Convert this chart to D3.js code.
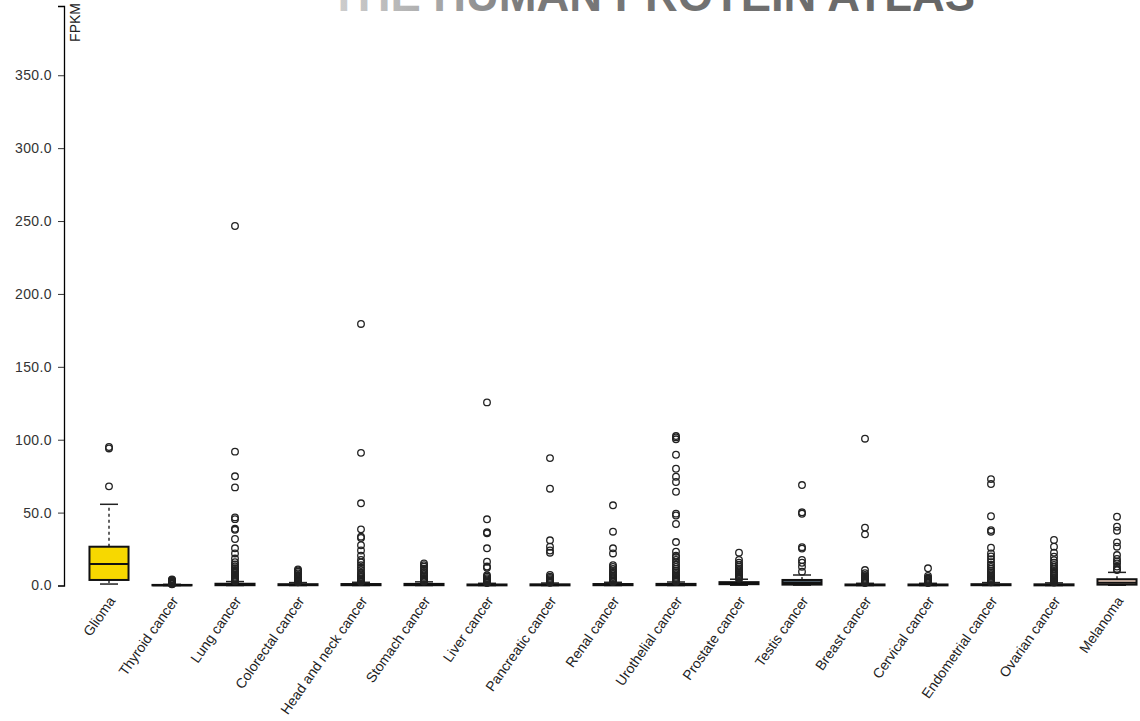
<!DOCTYPE html>
<html>
<head>
<meta charset="utf-8">
<script src="https://cdn.jsdelivr.net/npm/d3@7"></script>
<style>
  html, body { margin: 0; padding: 0; background: #fff; }
  svg { display: block; font-family: "Liberation Sans", Arial, sans-serif; }
</style>
</head>
<body>
<svg id="chart" width="1140" height="721"></svg>
<script>
// Cancer types along the x axis
const categories = ["Glioma", "Thyroid cancer", "Lung cancer", "Colorectal cancer",
  "Head and neck cancer", "Stomach cancer", "Liver cancer", "Pancreatic cancer",
  "Renal cancer", "Urothelial cancer", "Prostate cancer", "Testis cancer",
  "Breast cancer", "Cervical cancer", "Endometrial cancer", "Ovarian cancer", "Melanoma"];

// Box statistics (FPKM)
const whiskerLow  = [1.0, 0.0, 0.0, 0.0, 0.0, 0.0, 0.0, 0.0, 0.0, 0.0, 0.2, 0.3, 0.0, 0.0, 0.0, 0.0, 0.2];
const q1          = [3.8, 0.1, 0.2, 0.2, 0.2, 0.2, 0.1, 0.1, 0.2, 0.2, 0.9, 0.6, 0.1, 0.1, 0.2, 0.1, 0.6];
const median      = [14.7, 0.2, 0.5, 0.4, 0.5, 0.5, 0.3, 0.3, 0.5, 0.5, 1.5, 1.8, 0.3, 0.3, 0.4, 0.3, 1.9];
const q3          = [26.6, 0.4, 1.2, 0.9, 1.0, 1.1, 0.7, 0.8, 1.0, 1.1, 2.3, 3.8, 0.7, 0.7, 0.9, 0.8, 4.3];
const whiskerHigh = [55.7, 0.8, 2.7, 2.0, 2.2, 2.5, 1.5, 1.7, 2.2, 2.4, 4.3, 7.2, 1.5, 1.5, 2.0, 1.8, 9.0];

// Samples beyond the whiskers
const outliers = [
  [68.0, 94.0, 95.0],
  [0.9, 1.0, 1.2, 1.4, 1.6, 1.9, 2.2, 2.5, 2.9, 3.3, 3.8, 4.2],
  [2.9, 3.1, 3.4, 3.8, 4.2, 4.7, 5.3, 6.0, 6.8, 7.6, 8.5, 9.5, 10.6, 11.8, 13.1, 14.5, 16.0, 18.5, 22.0, 25.5, 31.9, 38.2, 38.9, 45.5, 46.7, 67.3, 74.9, 91.8, 246.6],
  [2.2, 2.5, 2.9, 3.3, 3.8, 4.3, 4.9, 5.6, 6.4, 7.3, 8.3, 9.4, 10.3, 11.0],
  [2.4, 2.7, 3.1, 3.6, 4.2, 4.9, 5.7, 6.6, 7.6, 8.7, 10.6, 12.2, 14.0, 15.8, 17.5, 20.5, 24.0, 27.6, 32.6, 33.5, 38.5, 56.4, 91.0, 179.4],
  [2.7, 3.0, 3.4, 3.9, 4.5, 5.2, 6.0, 6.9, 7.9, 9.0, 10.2, 11.5, 12.9, 14.0, 15.2],
  [1.7, 2.0, 2.4, 2.9, 3.5, 4.2, 5.0, 6.0, 7.0, 12.2, 13.0, 16.3, 25.5, 35.8, 36.5, 45.4, 125.6],
  [1.9, 2.2, 2.6, 3.1, 3.7, 4.4, 5.2, 6.1, 7.2, 22.5, 24.0, 26.6, 31.0, 66.4, 87.4],
  [2.4, 2.8, 3.2, 3.7, 4.3, 5.0, 5.8, 6.7, 7.7, 8.8, 10.0, 11.3, 12.7, 14.0, 22.0, 25.5, 36.9, 55.0],
  [2.6, 2.9, 3.3, 3.8, 4.4, 5.1, 5.9, 6.8, 7.8, 8.9, 10.1, 11.4, 12.8, 14.3, 15.9, 17.6, 19.5, 20.5, 23.2, 29.8, 42.2, 48.0, 49.3, 64.3, 71.0, 74.6, 80.1, 89.7, 100.3, 101.6, 102.5],
  [4.6, 5.0, 5.5, 6.0, 6.6, 7.2, 7.9, 8.7, 9.6, 10.6, 11.7, 12.9, 14.2, 15.6, 17.5, 22.5],
  [9.5, 12.9, 15.6, 17.5, 25.3, 26.3, 49.2, 50.2, 68.9],
  [1.7, 2.0, 2.4, 2.8, 3.3, 3.9, 4.6, 5.4, 6.3, 7.2, 8.5, 10.6, 35.1, 39.7, 100.7],
  [1.7, 2.0, 2.3, 2.7, 3.1, 3.6, 4.1, 4.7, 5.4, 6.5, 11.8],
  [2.2, 2.5, 2.9, 3.3, 3.8, 4.4, 5.1, 5.9, 6.8, 7.8, 8.9, 10.1, 11.4, 12.8, 14.3, 16.0, 18.0, 20.0, 22.0, 25.9, 36.9, 38.0, 47.5, 69.6, 73.0],
  [2.0, 2.3, 2.7, 3.1, 3.6, 4.2, 4.9, 5.7, 6.6, 7.6, 8.7, 9.9, 11.2, 12.6, 14.1, 15.7, 17.4, 19.8, 22.5, 26.6, 31.2],
  [10.6, 11.3, 13.0, 15.2, 16.5, 18.2, 20.9, 26.6, 29.6, 37.6, 40.3, 47.2]
];

// Box fill per cancer type
const boxColors = ["#f7d800", "#ffffff", "#ffffff", "#ffffff", "#ffffff", "#ffffff", "#ffffff",
  "#ffffff", "#ffffff", "#ffffff", "#ffffff", "#4b5a66", "#ffffff", "#ffffff", "#ffffff",
  "#ffffff", "#f2d3c2"];

// Y axis ticks
const yTicks = [0, 50, 100, 150, 200, 250, 300, 350];
const yMax = 397.5;

const svg = d3.select("#chart");

// Faded site banner along the top edge
const grad = svg.append("defs").append("linearGradient")
  .attr("id", "bannerFade").attr("x1", "0%").attr("x2", "100%");
grad.append("stop").attr("offset", "0%").attr("stop-color", "#d0d0d0");
grad.append("stop").attr("offset", "14%").attr("stop-color", "#b0b0b0");
grad.append("stop").attr("offset", "30%").attr("stop-color", "#7a7a7a");
grad.append("stop").attr("offset", "100%").attr("stop-color", "#656565");

svg.append("text")
  .attr("x", 330).attr("y", 11)
  .attr("textLength", 645).attr("lengthAdjust", "spacingAndGlyphs")
  .attr("font-family", "'Liberation Sans', Arial, sans-serif")
  .attr("font-weight", "bold").attr("font-size", 46)
  .attr("fill", "url(#bannerFade)")
  .text("THE HUMAN PROTEIN ATLAS");

const x = d3.scaleBand().domain(categories).range([77.5, 1148.5]).padding(0);
const y = d3.scaleLinear().domain([0, yMax]).range([585.5, 6]);

const boxW = x.bandwidth() * 0.62;
const capW = 18;
const cx = c => x(c) + x.bandwidth() / 2;

// Y axis
const yAxis = svg.append("g")
  .attr("transform", "translate(64,0)")
  .call(d3.axisLeft(y).tickValues(yTicks).tickFormat(d3.format(".1f"))
    .tickSize(6).tickPadding(6));
yAxis.select(".domain").attr("stroke", "#000").attr("stroke-width", 1.3);
yAxis.selectAll(".tick line").attr("stroke", "#333");
yAxis.selectAll(".tick text").attr("font-size", 14).attr("fill", "#333")
  .attr("letter-spacing", "0.4px")
  .attr("font-family", "'Liberation Sans', Arial, sans-serif");

svg.append("text")
  .attr("transform", "translate(80,3) rotate(-90)")
  .attr("text-anchor", "end")
  .attr("font-size", 14).attr("fill", "#222")
  .text("FPKM");

// Boxes
const boxes = svg.append("g").selectAll("g").data(categories).join("g");

boxes.append("line")
  .attr("x1", d => cx(d)).attr("x2", d => cx(d))
  .attr("y1", (d, i) => y(q3[i])).attr("y2", (d, i) => y(whiskerHigh[i]))
  .attr("stroke", "#222").attr("stroke-width", 1.4).attr("stroke-dasharray", "3,3");
boxes.append("line")
  .attr("x1", d => cx(d)).attr("x2", d => cx(d))
  .attr("y1", (d, i) => y(q1[i])).attr("y2", (d, i) => y(whiskerLow[i]))
  .attr("stroke", "#222").attr("stroke-width", 1.4).attr("stroke-dasharray", "3,3");

[whiskerHigh, whiskerLow].forEach(arr => {
  boxes.append("line")
    .attr("x1", d => cx(d) - capW / 2).attr("x2", d => cx(d) + capW / 2)
    .attr("y1", (d, i) => y(arr[i])).attr("y2", (d, i) => y(arr[i]))
    .attr("stroke", "#222").attr("stroke-width", 1.5);
});

boxes.append("rect")
  .attr("x", d => cx(d) - boxW / 2).attr("width", boxW)
  .attr("y", (d, i) => y(q3[i]))
  .attr("height", (d, i) => Math.max(0, y(q1[i]) - y(q3[i])))
  .attr("fill", (d, i) => boxColors[i])
  .attr("stroke", "#111").attr("stroke-width", 2);

boxes.append("line")
  .attr("x1", d => cx(d) - boxW / 2).attr("x2", d => cx(d) + boxW / 2)
  .attr("y1", (d, i) => y(median[i])).attr("y2", (d, i) => y(median[i]))
  .attr("stroke", "#111").attr("stroke-width", 2);

// Outliers
boxes.each(function (d, i) {
  d3.select(this).selectAll("circle").data(outliers[i]).join("circle")
    .attr("cx", cx(d)).attr("cy", v => y(v)).attr("r", 3.3)
    .attr("fill", "none").attr("stroke", "#222").attr("stroke-width", 1.3);
});

// Category labels
svg.append("g").selectAll("text").data(categories).join("text")
  .attr("transform", d => `translate(${cx(d) + 3},${598}) rotate(-55)`)
  .attr("text-anchor", "end")
  .attr("dy", "0.35em")
  .attr("font-size", 14).attr("fill", "#222")
  .text(d => d);
</script>
</body>
</html>
